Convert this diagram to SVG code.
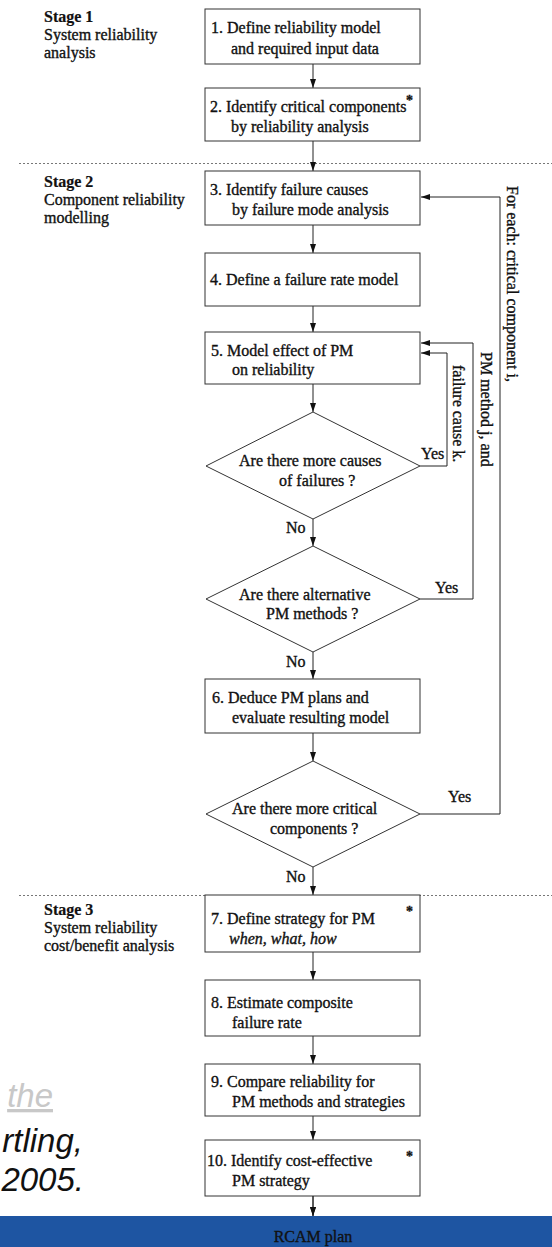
<svg xmlns="http://www.w3.org/2000/svg" width="552" height="1247" viewBox="0 0 552 1247">
<style>
  text { font-family: "Liberation Serif", "Times New Roman", serif; font-size: 16px; fill: #111; stroke: #111; stroke-width: 0.35; }
  .stage { font-weight: bold; stroke-width: 0.2; }
  .box { fill: #fff; stroke: #333; stroke-width: 1; }
  .dia { fill: #fff; stroke: #333; stroke-width: 1; }
  .conn { fill: none; stroke: #222; stroke-width: 1; marker-end: url(#arr); }
  .sep { stroke: #777; stroke-width: 1; stroke-dasharray: 2,2; }
  .ast { font-size: 14px; font-weight: bold; }
  .side { font-family: "Liberation Sans", Arial, sans-serif; font-style: italic; font-size: 33px; fill: #111; stroke: none; }
</style>
<defs>
  <marker id="arr" markerUnits="userSpaceOnUse" markerWidth="10" markerHeight="7" refX="9" refY="3" orient="auto">
    <path d="M0,0 L9,3 L0,6 z" fill="#111"/>
  </marker>
</defs>
<rect x="0" y="0" width="552" height="1247" fill="#fff"/>

<g id="background-text">
  <text class="side" x="53" y="1107" text-anchor="end" style="fill:#c8c8c8" text-decoration="underline">the</text>
  <text class="side" x="83" y="1152" text-anchor="end">rtling,</text>
  <text class="side" x="84" y="1191" text-anchor="end">2005.</text>
</g>

<g id="separators">
  <line class="sep" x1="19" y1="163.5" x2="552" y2="163.5"/>
  <line class="sep" x1="19" y1="895.5" x2="552" y2="895.5"/>
</g>

<g id="stage1">
  <text class="stage" x="44" y="22">Stage 1</text>
  <text x="44" y="40">System reliability</text>
  <text x="44" y="58">analysis</text>
</g>
<g id="stage2">
  <text class="stage" x="44" y="187">Stage 2</text>
  <text x="44" y="205">Component reliability</text>
  <text x="44" y="223">modelling</text>
</g>
<g id="stage3">
  <text class="stage" x="44" y="915">Stage 3</text>
  <text x="44" y="933">System reliability</text>
  <text x="44" y="951">cost/benefit analysis</text>
</g>

<g id="connectors">
  <line class="conn" x1="313" y1="64" x2="313" y2="88"/>
  <line class="conn" x1="313" y1="141" x2="313" y2="171"/>
  <line class="conn" x1="313" y1="225" x2="313" y2="253"/>
  <line class="conn" x1="313" y1="306" x2="313" y2="332"/>
  <line class="conn" x1="313" y1="384" x2="313" y2="412"/>
  <line class="conn" x1="313" y1="519" x2="313" y2="546"/>
  <line class="conn" x1="313" y1="652" x2="313" y2="679"/>
  <line class="conn" x1="313" y1="733" x2="313" y2="761"/>
  <line class="conn" x1="313" y1="867" x2="313" y2="895"/>
  <line class="conn" x1="313" y1="952" x2="313" y2="980"/>
  <line class="conn" x1="313" y1="1036" x2="313" y2="1064"/>
  <line class="conn" x1="313" y1="1116" x2="313" y2="1140"/>
  <line class="conn" x1="313" y1="1196" x2="313" y2="1216"/>
  <polyline class="conn" points="420,466 447,466 447,353 421,353"/>
  <polyline class="conn" points="420,599 473,599 473,343 421,343"/>
  <polyline class="conn" points="420,814 500,814 500,197 421,197"/>
  <text x="421" y="459">Yes</text>
  <text x="435" y="593">Yes</text>
  <text x="448" y="802">Yes</text>
  <text x="286" y="533">No</text>
  <text x="286" y="667">No</text>
  <text x="286" y="882">No</text>
  <text transform="translate(507,186) rotate(90)">For each: critical component i,</text>
  <text transform="translate(481,352) rotate(90)">PM method j, and</text>
  <text transform="translate(453,365) rotate(90)">failure cause k.</text>
</g>

<g id="n1">
  <rect class="box" x="205" y="9" width="215" height="55"/>
  <text x="211" y="33">1. Define reliability model</text>
  <text x="231" y="54">and required input data</text>
</g>
<g id="n2">
  <rect class="box" x="205" y="88" width="215" height="53"/>
  <text x="210" y="112">2. Identify critical components</text>
  <text x="231" y="132">by reliability analysis</text>
  <text class="ast" x="406" y="105">*</text>
</g>
<g id="n3">
  <rect class="box" x="205" y="171" width="215" height="54"/>
  <text x="210" y="195">3. Identify failure causes</text>
  <text x="232" y="215">by failure mode analysis</text>
</g>
<g id="n4">
  <rect class="box" x="205" y="253" width="215" height="53"/>
  <text x="210" y="285">4. Define a failure rate model</text>
</g>
<g id="n5">
  <rect class="box" x="205" y="332" width="215" height="52"/>
  <text x="211" y="356">5. Model effect of PM</text>
  <text x="232" y="375">on reliability</text>
</g>
<g id="d1">
  <polygon class="dia" points="313,412 420,466 313,519 206,466"/>
  <text x="239" y="466">Are there more causes</text>
  <text x="279" y="486">of failures ?</text>
</g>
<g id="d2">
  <polygon class="dia" points="313,546 420,599 313,652 206,599"/>
  <text x="239" y="600">Are there alternative</text>
  <text x="266" y="619">PM methods ?</text>
</g>
<g id="n6">
  <rect class="box" x="205" y="679" width="215" height="54"/>
  <text x="212" y="703">6. Deduce PM plans and</text>
  <text x="232" y="723">evaluate resulting model</text>
</g>
<g id="d3">
  <polygon class="dia" points="313,761 420,814 313,867 206,814"/>
  <text x="232" y="814">Are there more critical</text>
  <text x="270" y="834">components ?</text>
</g>
<g id="n7">
  <rect class="box" x="205" y="895" width="215" height="57"/>
  <text x="211" y="924">7. Define strategy for PM</text>
  <text x="229" y="944" font-style="italic">when, what, how</text>
  <text class="ast" x="406" y="916">*</text>
</g>
<g id="n8">
  <rect class="box" x="205" y="980" width="215" height="56"/>
  <text x="211" y="1008">8. Estimate composite</text>
  <text x="232" y="1028">failure rate</text>
</g>
<g id="n9">
  <rect class="box" x="205" y="1064" width="215" height="52"/>
  <text x="211" y="1087">9. Compare reliability for</text>
  <text x="232" y="1107">PM methods and strategies</text>
</g>
<g id="n10">
  <rect class="box" x="205" y="1140" width="215" height="56"/>
  <text x="207" y="1166">10. Identify cost-effective</text>
  <text x="232" y="1186">PM strategy</text>
  <text class="ast" x="406" y="1161">*</text>
</g>

<g id="rcam">
  <rect x="0" y="1216" width="552" height="31" fill="#1e55a2"/>
  <line class="conn" x1="313" y1="1196" x2="313" y2="1216"/>
  <text x="313" y="1242" text-anchor="middle">RCAM plan</text>
</g>
</svg>
